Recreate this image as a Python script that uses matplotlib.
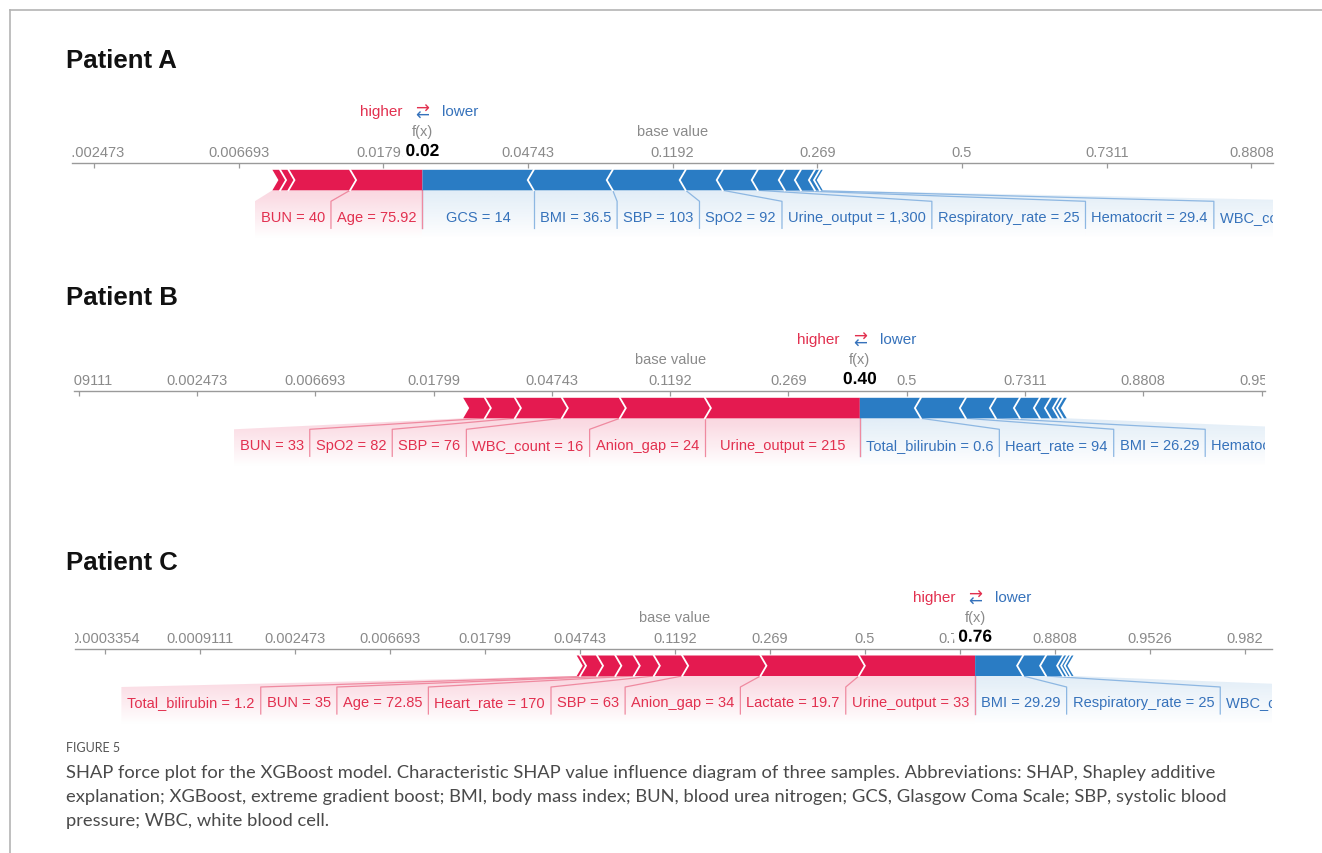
import numpy as np
import matplotlib
matplotlib.use("Agg")
import matplotlib.pyplot as plt
import matplotlib.patheffects as pe
from matplotlib.font_manager import FontProperties
from matplotlib.lines import Line2D
from matplotlib.patches import Polygon
from matplotlib.colors import to_rgb

W, H, DPI = 1322, 854, 100

# Expected model output (log-odds) shared by all three force plots
BASE_VALUE = -2.0

# ---- Patient A ----
a_pos_labels = ["Age = 75.92", "BUN = 40", "", ""]
a_pos_shap = [0.500, 0.426, 0.058, 0.053]
a_neg_labels = ["GCS = 14", "BMI = 36.5", "SBP = 103", "SpO2 = 92",
                "Urine_output = 1,300", "Respiratory_rate = 25",
                "Hematocrit = 29.4", "WBC_count = 10.6", "", ""]
a_neg_shap = [0.769, 0.546, 0.504, 0.256, 0.242, 0.187, 0.111, 0.097, 0.035, 0.019]
a_ticks = [-6, -5, -4, -3, -2, -1, 0, 1, 2]
a_tick_labels = ["0.002473", "0.006693", "0.01799", "0.04743", "0.1192",
                 "0.269", "0.5", "0.7311", "0.8808"]

# ---- Patient B ----
b_pos_labels = ["Urine_output = 215", "Anion_gap = 24", "WBC_count = 16",
                "SBP = 76", "SpO2 = 82", "BUN = 33"]
b_pos_shap = [1.310, 0.719, 0.490, 0.397, 0.254, 0.183]
b_neg_labels = ["Total_bilirubin = 0.6", "Heart_rate = 94", "BMI = 26.29",
                "Hematocrit = 31.2", "", "", "", "", ""]
b_neg_shap = [0.516, 0.380, 0.254, 0.203, 0.169, 0.093, 0.068, 0.034, 0.032]
b_ticks = [-7, -6, -5, -4, -3, -2, -1, 0, 1, 2, 3]
b_tick_labels = ["0.0009111", "0.002473", "0.006693", "0.01799", "0.04743",
                 "0.1192", "0.269", "0.5", "0.7311", "0.8808", "0.9526"]

# ---- Patient C ----
c_pos_labels = ["Urine_output = 33", "Lactate = 19.7", "Anion_gap = 34",
                "SBP = 63", "Heart_rate = 170", "Age = 72.85", "BUN = 35",
                "Total_bilirubin = 1.2", ""]
c_pos_shap = [1.224, 1.036, 0.824, 0.298, 0.211, 0.194, 0.193, 0.179, 0.035]
c_neg_labels = ["BMI = 29.29", "Respiratory_rate = 25", "WBC_count = 13.4",
                "", "", ""]
c_neg_shap = [0.505, 0.242, 0.179, 0.042, 0.037, 0.030]
c_ticks = [-8, -7, -6, -5, -4, -3, -2, -1, 0, 1, 2, 3, 4]
c_tick_labels = ["0.0003354", "0.0009111", "0.002473", "0.006693", "0.01799",
                 "0.04743", "0.1192", "0.269", "0.5", "0.7311", "0.8808",
                 "0.9526", "0.982"]

panel_titles = ["Patient A", "Patient B", "Patient C"]

caption_head = "FIGURE 5"
caption_lines = [
    "SHAP force plot for the XGBoost model. Characteristic SHAP value influence diagram of three samples. Abbreviations: SHAP, Shapley additive",
    "explanation; XGBoost, extreme gradient boost; BMI, body mass index; BUN, blood urea nitrogen; GCS, Glasgow Coma Scale; SBP, systolic blood",
    "pressure; WBC, white blood cell.",
]

# ---- styling ----
RED = "#e41a50"
BLUE = "#2a7cc4"
RED_TXT = "#e2304f"
BLUE_TXT = "#3672bb"
RED_LINE = "#ef8aa0"
BLUE_LINE = "#8db7e2"
AXIS_C = "#9a9a9a"
TICK_C = "#8a8a8a"
FONT = "Liberation Sans"
FS = 10.5

plt.rcParams["font.family"] = [FONT, "DejaVu Sans"]

# vertical offsets (pixels below the axis line)
HL_Y, FX_Y = -52, -32
BAR_TOP, BAR_BOT = 6.5, 27.0
LBL_TOP, LBL_Y, LINE_BOT, SHADE_BOT = 38.0, 53.5, 65.0, 76.0
Y_TOP, Y_BOT = -70.0, 85.0

fig = plt.figure(figsize=(W / DPI, H / DPI), dpi=DPI)
fig.patch.set_facecolor("white")
renderer = fig.canvas.get_renderer()
label_fp = FontProperties(family=FONT, size=FS)


def text_px(s, fp):
    w, _, _ = renderer.get_text_width_height_descent(s, fp, ismath=False)
    return w


def shade(ax, pts, color, a0, zorder=1):
    poly = Polygon(pts, closed=True, facecolor="none", edgecolor="none")
    ax.add_patch(poly)
    xs = [p[0] for p in pts]
    n = 64
    rgba = np.zeros((n, 1, 4))
    rgba[..., :3] = to_rgb(color)
    rgba[:, 0, 3] = np.linspace(a0, 0.0, n)
    im = ax.imshow(rgba, extent=[min(xs), max(xs), SHADE_BOT, BAR_BOT],
                   origin="upper", aspect="auto", interpolation="bilinear",
                   zorder=zorder)
    im.set_clip_path(poly)


def force_panel(ax, pos_labels, pos_shap, neg_labels, neg_shap, base,
                ticks, tick_labels, xlim, px_width):
    ppu = px_width / (xlim[1] - xlim[0])  # pixels per log-odds unit
    px = lambda p: p / ppu
    pos = np.asarray(pos_shap)
    neg = np.asarray(neg_shap)
    fx = base + pos.sum() - neg.sum()
    tip = px(6.0)
    pad = px(12.0)
    mid = (BAR_TOP + BAR_BOT) / 2

    # axis with logistic-scale tick labels
    for s in ("left", "right", "bottom"):
        ax.spines[s].set_visible(False)
    ax.spines["top"].set_position(("data", 0))
    ax.spines["top"].set_color(AXIS_C)
    ax.spines["top"].set_linewidth(1.0)
    ax.patch.set_visible(False)
    ax.xaxis.set_ticks_position("top")
    ax.set_xticks(ticks, tick_labels)
    ax.set_yticks([])
    ax.tick_params(axis="x", direction="in", length=3.4, width=0.9,
                   color=AXIS_C, pad=2.8, labelsize=FS, labelcolor=TICK_C)
    for lab in ax.get_xticklabels():
        lab.set_clip_on(True)
        lab.set_clip_box(ax.bbox)

    # red (increasing) segments, stacked leftwards from f(x)
    r_edges = fx - np.concatenate([[0.0], np.cumsum(pos)])
    for i in range(len(pos)):
        x1, x0 = r_edges[i], r_edges[i + 1]
        rt = 0.0 if i == 0 else tip
        ax.add_patch(Polygon([(x0, BAR_TOP), (x1, BAR_TOP), (x1 + rt, mid),
                              (x1, BAR_BOT), (x0, BAR_BOT), (x0 + tip, mid)],
                             closed=True, facecolor=RED, edgecolor="none", zorder=3))
        if i > 0:
            ax.plot([x1, x1 + tip, x1], [BAR_TOP, mid, BAR_BOT], color="white",
                    lw=1.3, zorder=4, solid_joinstyle="miter")

    # blue (decreasing) segments, stacked rightwards from f(x)
    b_edges = fx + np.concatenate([[0.0], np.cumsum(neg)])
    for i in range(len(neg)):
        x0, x1 = b_edges[i], b_edges[i + 1]
        lt = 0.0 if i == 0 else tip
        ax.add_patch(Polygon([(x0, BAR_TOP), (x1, BAR_TOP), (x1 - tip, mid),
                              (x1, BAR_BOT), (x0, BAR_BOT), (x0 - lt, mid)],
                             closed=True, facecolor=BLUE, edgecolor="none", zorder=3))
        if i > 0:
            ax.plot([x0, x0 - tip, x0], [BAR_TOP, mid, BAR_BOT], color="white",
                    lw=1.3, zorder=4, solid_joinstyle="miter")

    # labels for red features
    named = [i for i, s in enumerate(pos_labels) if s]
    prev = fx
    for k, i in enumerate(named):
        seg_hi, seg_lo = r_edges[i], r_edges[i + 1]
        if k == len(named) - 1:
            seg_lo = r_edges[-1]
        tw = px(text_px(pos_labels[i], label_fp)) + pad
        hi = min(seg_hi, prev)
        lo = min(seg_lo, hi - tw)
        prev = lo
        shade(ax, [(seg_lo, BAR_BOT), (seg_hi, BAR_BOT), (hi, LBL_TOP),
                   (hi, SHADE_BOT), (lo, SHADE_BOT), (lo, LBL_TOP)], RED, 0.18)
        ax.plot([seg_hi, hi, hi], [BAR_BOT, LBL_TOP, LINE_BOT], color=RED_LINE,
                lw=0.9, zorder=2.2)
        ax.text((lo + hi) / 2, LBL_Y, pos_labels[i], ha="center", va="center",
                fontsize=FS, color=RED_TXT, clip_on=True, zorder=5)

    # labels for blue features
    named = [i for i, s in enumerate(neg_labels) if s]
    prev = fx
    for k, i in enumerate(named):
        seg_lo, seg_hi = b_edges[i], b_edges[i + 1]
        if k == len(named) - 1:
            seg_hi = b_edges[-1]
        tw = px(text_px(neg_labels[i], label_fp)) + pad
        lo = max(seg_lo, prev)
        hi = max(seg_hi, lo + tw)
        prev = hi
        shade(ax, [(seg_lo, BAR_BOT), (seg_hi, BAR_BOT), (hi, LBL_TOP),
                   (hi, SHADE_BOT), (lo, SHADE_BOT), (lo, LBL_TOP)], BLUE, 0.14)
        ax.plot([seg_lo, lo, lo], [BAR_BOT, LBL_TOP, LINE_BOT], color=BLUE_LINE,
                lw=0.9, zorder=2.1)
        ax.text((lo + hi) / 2, LBL_Y, neg_labels[i], ha="center", va="center",
                fontsize=FS, color=BLUE_TXT, clip_on=True, zorder=5)

    # output and base value annotations
    p_fx = 1.0 / (1.0 + np.exp(-fx))
    ax.text(fx, -11.8, f"{p_fx:.2f}", ha="center", va="center", fontsize=12.5,
            fontweight="bold", color="black", zorder=6, clip_on=True,
            path_effects=[pe.withStroke(linewidth=7.5, foreground="white")])
    ax.text(fx, FX_Y, "f(x)", ha="center", va="center", fontsize=FS,
            color=TICK_C, zorder=6)
    ax.text(base, FX_Y, "base value", ha="center", va="center", fontsize=FS,
            color=TICK_C, zorder=6)
    ax.text(fx - px(20), HL_Y, "higher", ha="right", va="center", fontsize=11,
            color=RED_TXT, zorder=6)
    ax.text(fx + px(20), HL_Y, "lower", ha="left", va="center", fontsize=11,
            color=BLUE_TXT, zorder=6)
    ax.text(fx, HL_Y - 3.5, "\u2192", ha="center", va="center", fontsize=12,
            color=RED_TXT, family="DejaVu Sans", zorder=6)
    ax.text(fx, HL_Y + 3.5, "\u2190", ha="center", va="center", fontsize=12,
            color=BLUE_TXT, family="DejaVu Sans", zorder=6)

    ax.set_xlim(*xlim)
    ax.set_ylim(Y_BOT, Y_TOP)


# panel geometry in pixels: left, right, axis-line y, title y, x-limits
panels = [
    dict(left=72, right=1273, axis_y=164.3, title_y=61, xlim=(-6.151, 2.149),
         data=(a_pos_labels, a_pos_shap, a_neg_labels, a_neg_shap, a_ticks, a_tick_labels)),
    dict(left=74, right=1265, axis_y=392.3, title_y=298, xlim=(-7.039, 3.029),
         data=(b_pos_labels, b_pos_shap, b_neg_labels, b_neg_shap, b_ticks, b_tick_labels)),
    dict(left=75, right=1272, axis_y=650.0, title_y=563, xlim=(-8.316, 4.284),
         data=(c_pos_labels, c_pos_shap, c_neg_labels, c_neg_shap, c_ticks, c_tick_labels)),
]

for title, p in zip(panel_titles, panels):
    top = p["axis_y"] + Y_TOP
    bot = p["axis_y"] + Y_BOT
    ax = fig.add_axes([p["left"] / W, 1 - bot / H, (p["right"] - p["left"]) / W,
                       (bot - top) / H])
    pl, ps, nl, ns, tk, tl = p["data"]
    force_panel(ax, pl, ps, nl, ns, BASE_VALUE, tk, tl, p["xlim"],
                p["right"] - p["left"])
    fig.text(66 / W, 1 - p["title_y"] / H, title, ha="left", va="center",
             fontsize=18.5, fontweight="bold", color="#111111",
             family="Liberation Sans")

# page frame
fig.add_artist(Line2D([10 / W, 1.0], [1 - 11 / H, 1 - 11 / H],
                      transform=fig.transFigure, color="#b4b4b4", lw=1.2))
fig.add_artist(Line2D([10 / W, 10 / W], [0.0, 1 - 11 / H],
                      transform=fig.transFigure, color="#b4b4b4", lw=1.2))

# caption
cap_family = "Lato"
trial = FontProperties(family=cap_family, size=13)
cap_size = 13 * 1147.0 / text_px(caption_lines[0], trial)
fig.text(66 / W, 1 - 748 / H, caption_head, ha="left", va="center",
         fontsize=9, color="#555555", family=cap_family)
for k, line in enumerate(caption_lines):
    fig.text(66 / W, 1 - (773 + 24 * k) / H, line, ha="left", va="center",
             fontsize=cap_size, color="#4a4a4a", family=cap_family)

fig.savefig("out.png", dpi=DPI, facecolor="white")
